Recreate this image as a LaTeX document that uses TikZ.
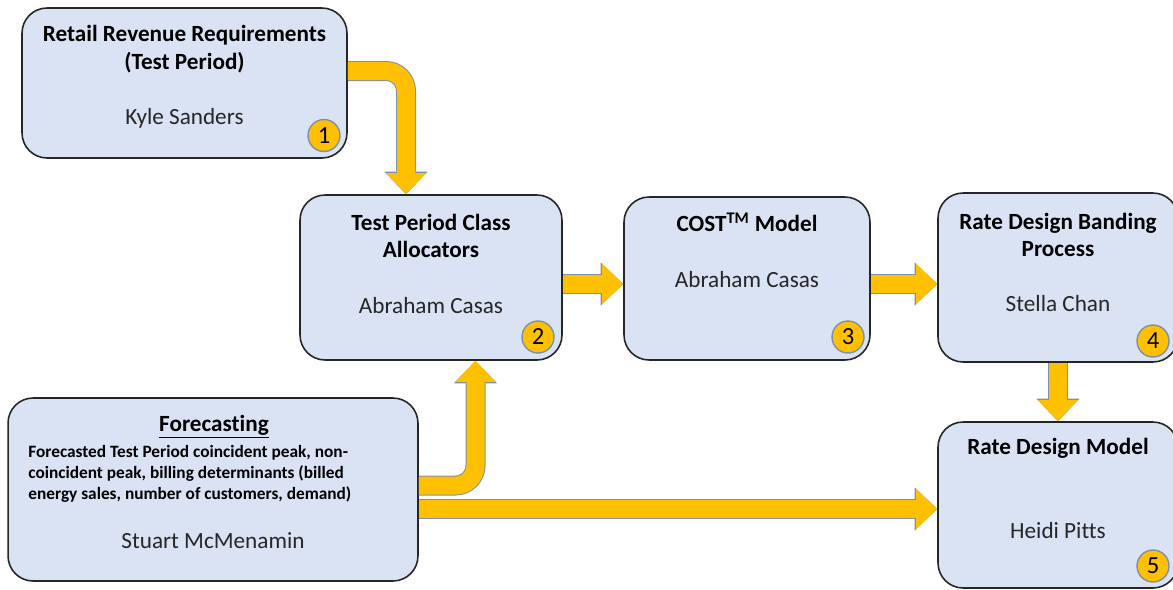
\documentclass[tikz,border=0pt]{standalone}
\usepackage{fontspec}
\setmainfont{Carlito}[Ligatures=NoCommon]
\usepackage{tikz}
\usetikzlibrary{arrows.meta}
\definecolor{boxfill}{HTML}{DAE3F3}
\definecolor{flowfill}{HTML}{FFC000}
\definecolor{flowline}{HTML}{7F8FA9}
\definecolor{nametext}{HTML}{262626}

\begin{document}
\begin{tikzpicture}[x=0.02cm,y=-0.02cm]
    \tikzstyle{stage}=[rectangle,draw=black!85,line width=0.9pt,fill=boxfill,rounded corners=0.5cm,inner sep=0pt]
	\tikzstyle{stagetitle}=[font=\fontsize{13.2}{15.7}\selectfont\bfseries,align=center,inner sep=0pt]
	\tikzstyle{owner}=[font=\fontsize{13.2}{15}\selectfont,text=nametext,inner sep=0pt]
	\tikzstyle{stepnum}=[circle,draw=flowline,line width=0.8pt,fill=flowfill,minimum size=0.64cm,inner sep=0pt,font=\fontsize{14}{16}\selectfont]
	\tikzstyle{flow}=[line width=0.36cm,draw=flowfill,-{Triangle[length=0.42cm,width=0.8cm,line width=0pt]},
	    preaction={draw=flowline,line width=0.40cm,-{Triangle[length=0.45cm,width=0.86cm,line width=0pt]}}]
	\useasboundingbox (0,0) rectangle (1173,589);
	\node (retail)    at (184.5,83)  [stage,minimum width=6.5cm,minimum height=3cm] {};
	\node (alloc)     at (431,277.5) [stage,minimum width=5.24cm,minimum height=3.3cm] {};
	\node (cost)      at (747,278.5) [stage,minimum width=4.92cm,minimum height=3.26cm] {};
	\node (banding)   at (1058,277.5) [stage,minimum width=4.8cm,minimum height=3.38cm] {};
	\node (ratemodel) at (1058,505)  [stage,minimum width=4.8cm,minimum height=3.32cm] {};
	\node (forecast)  at (213,489.5) [stage,minimum width=8.2cm,minimum height=3.66cm] {};
	\node (retailtitle)    at (184.5,49)   [stagetitle] {Retail Revenue Requirements\\(Test Period)};
	\node (retailname)     at (184.5,118)  [owner] {Kyle Sanders};
	\node (alloctitle)     at (431,236)    [stagetitle] {Test Period Class\\Allocators};
	\node (allocname)      at (431,306)    [owner] {Abraham Casas};
	\node (costtitle)      at (747,222)    [stagetitle] {COST\textsuperscript{TM} Model};
	\node (costname)       at (747,280)    [owner] {Abraham Casas};
	\node (bandingtitle)   at (1058,235)   [stagetitle] {Rate Design Banding\\Process};
	\node (bandingname)    at (1058,304)   [owner] {Stella Chan};
	\node (ratemodeltitle) at (1058,448)   [stagetitle] {Rate Design Model};
	\node (ratemodelname)  at (1058,531)   [owner] {Heidi Pitts};
	\node (forecasttitle)  at (214,427)    [stagetitle] {\underline{Forecasting}};
	\node (forecastnote)   at (28,474)     [anchor=west,align=left,inner sep=0pt,font=\fontsize{9.85}{11.9}\selectfont\bfseries]
	    {Forecasted Test Period coincident peak, non-\\coincident peak, billing determinants (billed\\energy sales, number of customers, demand)};
	\node (forecastname)   at (213,541)    [owner] {Stuart McMenamin};
	\node (num1) at (324,135.5) [stepnum] {1};
	\node (num2) at (538,337)  [stepnum] {2};
	\node (num3) at (848,337)  [stepnum] {3};
	\node (num4) at (1153,341) [stepnum] {4};
	\node (num5) at (1153,566) [stepnum] {5};
	\draw [flow,rounded corners=0.4cm] (retail.east |- 0,71) -| (alloc.north -| 406,0);
	\draw [flow] (alloc.east |- 0,284) -- (cost.west |- 0,284);
	\draw [flow] (cost.east |- 0,284) -- (banding.west |- 0,284);
	\draw [flow] (banding.south) -- (ratemodel.north);
	\draw [flow,rounded corners=0.4cm] (forecast.east |- 0,485.5) -| (alloc.south -| 475.5,0);
	\draw [flow] (forecast.east |- 0,509) -- (ratemodel.west |- 0,509);
\end{tikzpicture}
\end{document}
